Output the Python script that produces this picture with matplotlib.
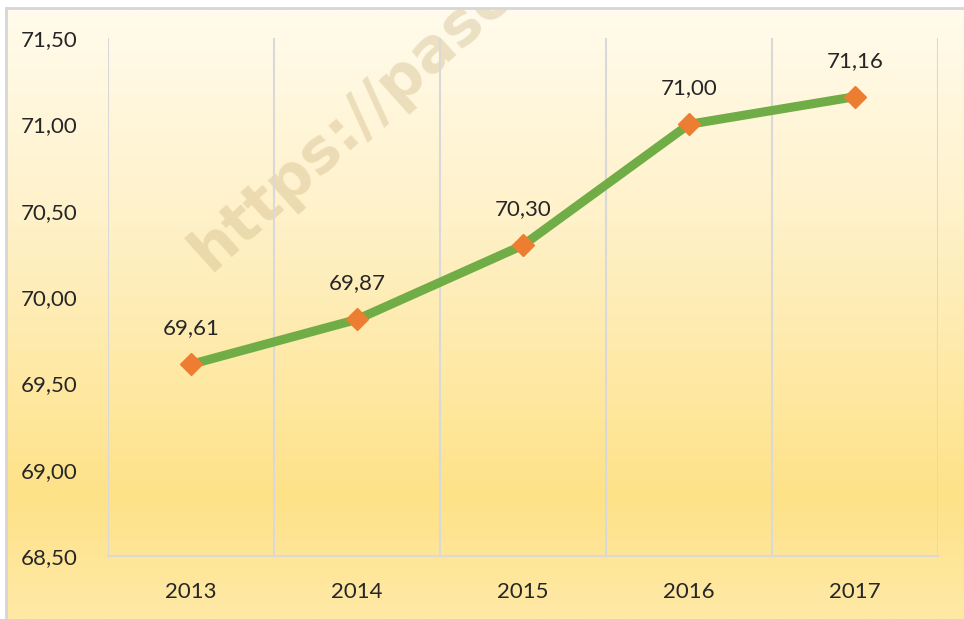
import numpy as np
import matplotlib
matplotlib.use("Agg")
import matplotlib.pyplot as plt
from matplotlib.ticker import FuncFormatter
from matplotlib.colors import LinearSegmentedColormap

years = ["2013", "2014", "2015", "2016", "2017"]
values = [69.61, 69.87, 70.30, 71.00, 71.16]
y_ticks = [68.5, 69.0, 69.5, 70.0, 70.5, 71.0, 71.5]

W, H = 964, 619
fig = plt.figure(figsize=(W / 100, H / 100), dpi=100)
fig.patch.set_facecolor("white")

# background gradient panel
bg = fig.add_axes([6 / W, 0, (W - 6) / W, (H - 9) / H])
bg.set_axis_off()
cmap = LinearSegmentedColormap.from_list(
    "g", [(0.0, "#FFFBEC"), (0.35, "#FFF1C8"), (0.8, "#FEE288"), (1.0, "#FFE9A6")])
grad = np.linspace(0, 1, 256).reshape(-1, 1)
bg.imshow(grad, aspect="auto", cmap=cmap, extent=[0, 1, 0, 1], origin="upper")
bg.set_xlim(0, 1)
bg.set_ylim(0, 1)
# border lines (left, top)
fig.add_artist(plt.Line2D([5.5 / W, 5.5 / W], [0, (H - 8) / H], color="#D6D6D6", lw=2.0))
fig.add_artist(plt.Line2D([5.5 / W, 1], [(H - 8) / H, (H - 8) / H], color="#D6D6D6", lw=2.0))

# watermark
bg.text((210 - 6) / (W - 6), (H - 272) / (H - 9), "https://pasen", rotation=42,
        rotation_mode="anchor", fontsize=44, fontweight="bold",
        color="#C9B17E", alpha=0.35, ha="left", va="baseline",
        fontfamily="DejaVu Sans", clip_on=True, transform=bg.transAxes)

ax = fig.add_axes([108 / W, (H - 556) / H, 830 / W, 518 / H])
ax.set_facecolor("none")
x = np.arange(len(years))
ax.set_xlim(-0.5, len(years) - 0.5)
ax.set_ylim(68.5, 71.5)

for b in np.arange(-0.5, len(years), 1.0):
    ax.axvline(b, color="#D9D9D9", lw=1.5, zorder=1)

ax.plot(x, values, color="#70AD47", lw=6.5, solid_capstyle="round", zorder=3,
        marker="D", markersize=11, markerfacecolor="#ED7D31", markeredgecolor="#ED7D31")

for xi, v in zip(x, values):
    ax.annotate(f"{v:.2f}".replace(".", ","), (xi, v), xytext=(0, 26),
                textcoords="offset points", ha="center", va="center",
                fontsize=16, fontfamily="Lato", color="#262626")

for s in ["top", "right", "left"]:
    ax.spines[s].set_visible(False)
ax.spines["bottom"].set_color("#D9D9D9")
ax.spines["bottom"].set_linewidth(1.5)

ax.set_yticks(y_ticks)
ax.yaxis.set_major_formatter(FuncFormatter(lambda v, p: f"{v:.2f}".replace(".", ",")))
ax.set_xticks(x)
ax.set_xticklabels(years)
ax.tick_params(axis="y", length=0, pad=22, labelsize=16, labelcolor="#262626")
ax.tick_params(axis="x", length=0, pad=19, labelsize=16, labelcolor="#262626")
for lab in ax.get_yticklabels() + ax.get_xticklabels():
    lab.set_fontfamily("Lato")

fig.savefig("out.png", dpi=100)
